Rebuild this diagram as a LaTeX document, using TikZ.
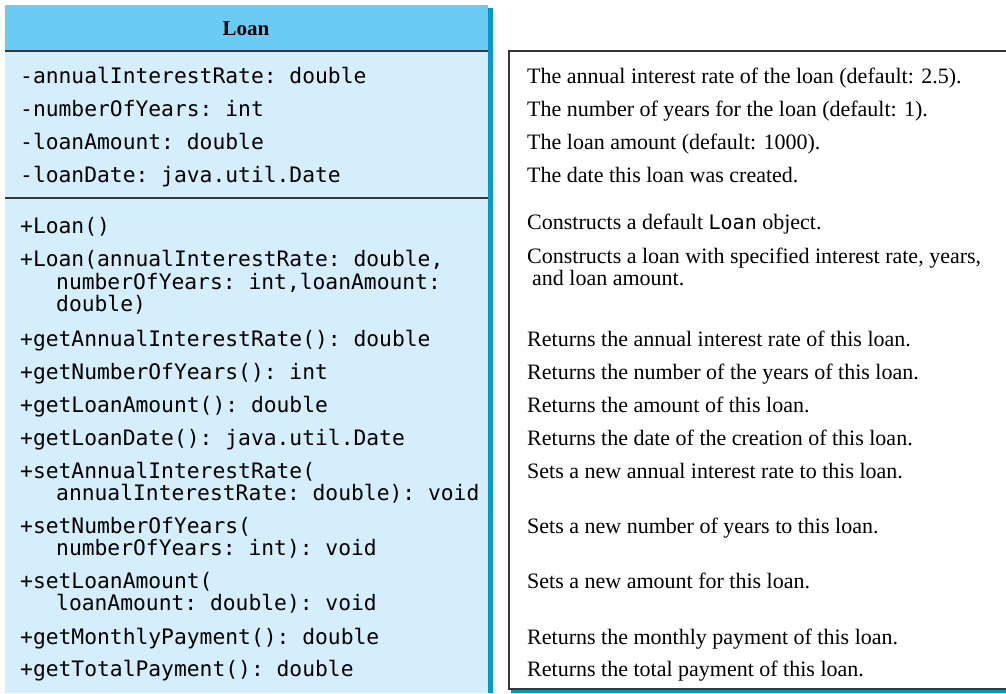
\documentclass[tikz,border=0pt]{standalone}
\usepackage{fontspec}
\setmainfont{Liberation Serif}
\setmonofont{DejaVu Sans Mono}
\definecolor{headblue}{RGB}{106,204,245}
\definecolor{bodyblue}{RGB}{213,238,251}
\definecolor{shadeblue}{RGB}{0,153,204}
\definecolor{rulegray}{RGB}{55,55,55}
\newcommand{\memfont}{\fontsize{21.3}{24}\selectfont\ttfamily}
\newcommand{\descfont}{\fontsize{22}{24}\selectfont\rmfamily}
\tikzstyle{mem} = [anchor=base west, inner sep=0pt, font=\memfont]
\tikzstyle{desc} = [anchor=base west, inner sep=0pt, font=\descfont]
\tikzstyle{divider} = [draw=rulegray, line width=1.6pt]
\tikzstyle{frame} = [draw=rulegray, line width=1.4pt]

\begin{document}
\begin{tikzpicture}[x=1pt,y=-1pt]
    \useasboundingbox (0,0) rectangle (1006,693);
    % class box
    \begin{scope}
      \fill[bodyblue] (5,5) rectangle (488,693);
      \fill[headblue] (5,5) rectangle (488,51);
      \fill[shadeblue] (488,8) rectangle (493,693);
      \coordinate (h1) at (5,51);
      \coordinate (h2) at (488,51);
      \coordinate (s1) at (5,198);
      \coordinate (s2) at (488,198);
      \draw[divider] (h1) -- (h2);
      \draw[divider] (s1) -- (s2);
      \node[anchor=base, inner sep=0pt, font=\fontsize{21}{24}\selectfont\bfseries] (title) at (246,36) {Loan};
    \end{scope}
    % fields
    \node[mem] (f1) at (20,83) {-annualInterestRate: double};
    \node[mem] (f2) at (20,116) {-numberOfYears: int};
    \node[mem] (f3) at (20,149) {-loanAmount: double};
    \node[mem] (f4) at (20,182) {-loanDate: java.util.Date};
    % methods
    \node[mem] (m1) at (20,233) {+Loan()};
    \node[mem] (m2) at (20,266) {+Loan(annualInterestRate: double,};
    \node[mem] (m2b) at (56,289) {numberOfYears: int,loanAmount:};
    \node[mem] (m2c) at (56,311) {double)};
    \node[mem] (m3) at (20,346) {+getAnnualInterestRate(): double};
    \node[mem] (m4) at (20,379) {+getNumberOfYears(): int};
    \node[mem] (m5) at (20,412) {+getLoanAmount(): double};
    \node[mem] (m6) at (20,445) {+getLoanDate(): java.util.Date};
    \node[mem] (m7) at (20,478) {+setAnnualInterestRate(};
    \node[mem] (m7b) at (56,500) {annualInterestRate: double): void};
    \node[mem] (m8) at (20,533) {+setNumberOfYears(};
    \node[mem] (m8b) at (56,555) {numberOfYears: int): void};
    \node[mem] (m9) at (20,588) {+setLoanAmount(};
    \node[mem] (m9b) at (56,610) {loanAmount: double): void};
    \node[mem] (m10) at (20,644) {+getMonthlyPayment(): double};
    \node[mem] (m11) at (20,676) {+getTotalPayment(): double};
    % description box
    \fill[shadeblue] (511,689) rectangle (1006,693);
    \coordinate (b1) at (1006,51);
    \coordinate (b2) at (509,51);
    \coordinate (b3) at (509,689);
    \coordinate (b4) at (1006,689);
    \draw[frame] (b1) -- (b2) -- (b3) -- (b4);
    \node[desc] (d1) at (527,83) {The annual interest rate of the loan (default: 2.5).};
    \node[desc] (d2) at (527,116) {The number of years for the loan (default: 1).};
    \node[desc] (d3) at (527,149) {The loan amount (default: 1000).};
    \node[desc] (d4) at (527,182) {The date this loan was created.};
    \node[desc] (d5) at (527,229) {Constructs a default {\fontsize{20}{24}\selectfont\ttfamily Loan} object.};
    \node[desc] (d6) at (527,263) {Constructs a loan with specified interest rate, years,};
    \node[desc] (d6b) at (532,285) {and loan amount.};
    \node[desc] (d7) at (527,346) {Returns the annual interest rate of this loan.};
    \node[desc] (d8) at (527,379) {Returns the number of the years of this loan.};
    \node[desc] (d9) at (527,412) {Returns the amount of this loan.};
    \node[desc] (d10) at (527,445) {Returns the date of the creation of this loan.};
    \node[desc] (d11) at (527,478) {Sets a new annual interest rate to this loan.};
    \node[desc] (d12) at (527,533) {Sets a new number of years to this loan.};
    \node[desc] (d13) at (527,588) {Sets a new amount for this loan.};
    \node[desc] (d14) at (527,644) {Returns the monthly payment of this loan.};
    \node[desc] (d15) at (527,676) {Returns the total payment of this loan.};
  \end{tikzpicture}
\end{document}
